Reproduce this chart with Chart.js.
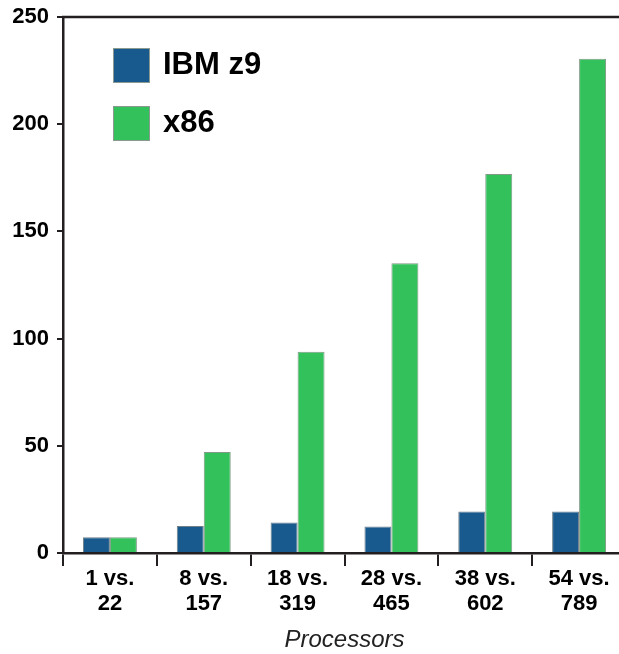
<!DOCTYPE html>
<html>
<head>
<meta charset="utf-8">
<script src="https://cdn.jsdelivr.net/npm/chart.js@4.4.1/dist/chart.umd.min.js"></script>
<style>
  html, body { margin: 0; padding: 0; background: #fff; overflow: hidden; }
  #wrap { position: relative; width: 626px; height: 654px; }
</style>
</head>
<body>
<div id="wrap"><canvas id="chart" width="626" height="654"></canvas></div>
<script>
// Data
const categories = [['1 vs.', '22'], ['8 vs.', '157'], ['18 vs.', '319'], ['28 vs.', '465'], ['38 vs.', '602'], ['54 vs.', '789']];
const seriesNames = ['IBM z9', 'x86'];
const ibmZ9 = [7.3, 12.6, 14.2, 12.4, 19.4, 19.4];
const x86 = [7.3, 47.1, 93.9, 135.1, 176.8, 230.5];
const yTicks = [0, 50, 100, 150, 200, 250];

const FONT = 'Liberation Sans, Arial, Helvetica, sans-serif';
const AXIS = '#231f20';

// Legend drawn inside the plot area
const legendInside = {
  id: 'legendInside',
  afterDraw(chart) {
    const { ctx } = chart;
    ctx.save();
    chart.data.datasets.forEach((ds, i) => {
      const y = 48 + i * 58;
      ctx.fillStyle = ds.backgroundColor;
      ctx.fillRect(113, y, 37, 35);
      ctx.strokeStyle = '#8a9a90';
      ctx.lineWidth = 1;
      ctx.strokeRect(113.5, y + 0.5, 36, 34);
      ctx.fillStyle = '#000';
      ctx.font = 'bold 31px ' + FONT;
      ctx.textBaseline = 'middle';
      ctx.fillText(ds.label, 163, y + 17);
    });
    ctx.restore();
  }
};

// Top frame line
const topLine = {
  id: 'topLine',
  afterDraw(chart) {
    const { ctx, chartArea } = chart;
    ctx.save();
    ctx.strokeStyle = AXIS;
    ctx.lineWidth = 2.5;
    ctx.beginPath();
    ctx.moveTo(chartArea.left - 1, chartArea.top);
    ctx.lineTo(chart.width, chartArea.top);
    ctx.stroke();
    ctx.restore();
  }
};

new Chart(document.getElementById('chart'), {
  type: 'bar',
  data: {
    labels: categories,
    datasets: [
      { label: seriesNames[0], data: ibmZ9, backgroundColor: '#185a8d', borderColor: '#6f7f88', borderWidth: 1 },
      { label: seriesNames[1], data: x86, backgroundColor: '#33c15b', borderColor: '#7f9a86', borderWidth: 1 }
    ]
  },
  options: {
    responsive: false,
    animation: false,
    devicePixelRatio: 1,
    layout: { padding: { top: 17, right: 0, left: 0, bottom: 0 } },
    datasets: { bar: { categoryPercentage: 0.575, barPercentage: 1 } },
    plugins: { legend: { display: false }, tooltip: { enabled: false } },
    scales: {
      y: {
        min: 0, max: 250,
        afterFit(scale) { scale.width = 63; scale.paddingTop = 0; scale.paddingBottom = 0; },
        afterBuildTicks(scale) { scale.ticks = yTicks.map(v => ({ value: v })); },
        grid: { drawOnChartArea: false, drawTicks: true, tickLength: 6, color: AXIS, lineWidth: 2 },
        border: { display: true, color: AXIS, width: 2.5 },
        ticks: { color: '#000', padding: 8, font: { family: FONT, size: 22, weight: 'bold' } }
      },
      x: {
        afterFit(scale) { scale.height = 101; scale.paddingLeft = 0; scale.paddingRight = 0; },
        grid: { offset: true, drawOnChartArea: false, drawTicks: true, tickLength: 13, color: AXIS, lineWidth: 2 },
        border: { display: true, color: AXIS, width: 2.5 },
        ticks: { color: '#000', padding: 0, maxRotation: 0, font: { family: FONT, size: 22, weight: 'bold', lineHeight: 1.14 } },
        title: { display: true, text: 'Processors', color: '#222', padding: 0, font: { family: FONT, size: 24, style: 'italic', lineHeight: 1.1 } }
      }
    }
  },
  plugins: [legendInside, topLine]
});
</script>
</body>
</html>
